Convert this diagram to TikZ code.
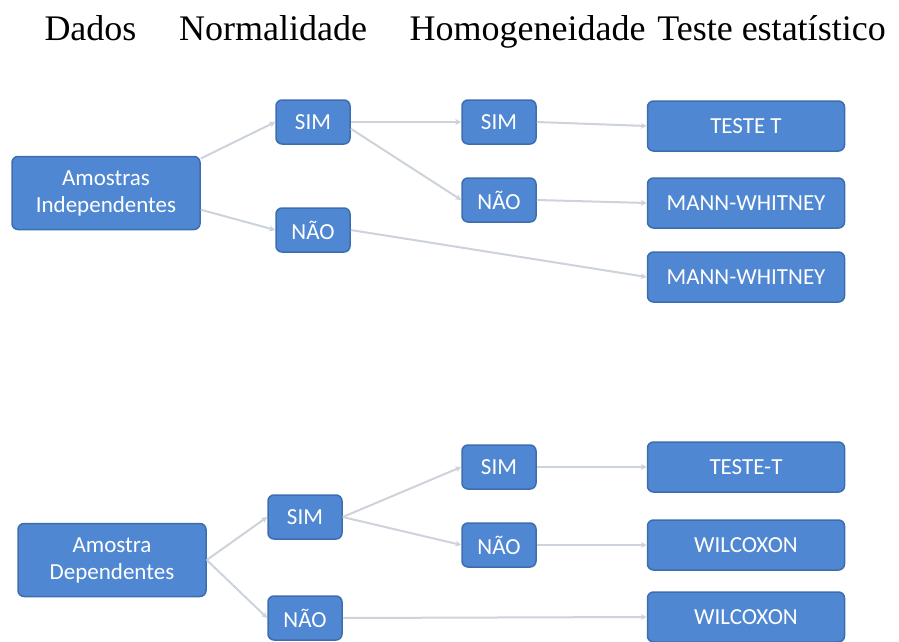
\documentclass[tikz,border=0pt]{standalone}
\usepackage{fontspec}
\setmainfont{Liberation Serif}
\newfontfamily\boitefont{Carlito}
\usetikzlibrary{arrows.meta}

\definecolor{bleu}{HTML}{4F87D2}
\definecolor{bleubord}{HTML}{3D6DAF}
\definecolor{gris}{HTML}{CDD3DB}

\tikzset{
  titre/.style={anchor=base, font=\fontsize{36}{40}\selectfont},
  boite/.style={draw=bleubord, line width=1.5pt, fill=bleu, rounded corners=6pt,
    text=white, font=\boitefont\fontsize{23}{27}\selectfont, align=center, inner sep=0pt},
  petite/.style={boite, minimum width=74pt, minimum height=44pt},
  grande/.style={boite, minimum width=197pt, minimum height=50pt},
  racine/.style={boite, minimum width=188pt, minimum height=73pt},
  lien/.style={draw=gris, line width=2pt, -{Stealth[length=6pt,width=6pt]}}
}

\begin{document}
\begin{tikzpicture}[x=1pt, y=-1pt]
		\useasboundingbox (0, 0) rectangle (899, 642);

		% titres des colonnes
		\node[titre] (tdados) at (90.5, 41) {Dados};
		\node[titre] (tnorm) at (273, 41) {Normalidade};
		\node[titre] (thomo) at (527.5, 41) {Homogeneidade};
		\node[titre] (tteste) at (771.5, 41) {Teste estatístico};

		% amostras independentes
		\node[racine] (ind) at (106, 193) {Amostras\\Independentes};
		\node[petite] (indsim) at (313, 122) {SIM};
		\node[petite] (indnao) at (313, 230) {NÃO};
		\node[petite] (indhsim) at (499, 122) {SIM};
		\node[petite] (indhnao) at (499, 200) {NÃO};
		\node[grande] (testet) at (746, 126) {TESTE T};
		\node[grande] (mannA) at (746, 203) {MANN-WHITNEY};
		\node[grande] (mannB) at (746, 277) {MANN-WHITNEY};

		\draw[lien] (ind.20) -- (indsim.west);
		\draw[lien] (ind.-10) -- (indnao.west);
		\draw[lien] (indsim.east) -- (indhsim.west);
		\draw[lien] (indsim.-10) -- (indhnao.west);
		\draw[lien] (indnao.east) -- (mannB.west);
		\draw[lien] (indhsim.east) -- (testet.west);
		\draw[lien] (indhnao.east) -- (mannA.west);

		% amostra dependentes
		\node[racine] (dep) at (112, 560) {Amostra\\Dependentes};
		\node[petite] (depsim) at (305, 517) {SIM};
		\node[petite] (depnao) at (305, 618) {NÃO};
		\node[petite] (dephsim) at (499, 467) {SIM};
		\node[petite] (dephnao) at (499, 545) {NÃO};
		\node[grande] (testetb) at (746, 467) {TESTE-T};
		\node[grande] (wilA) at (746, 545) {WILCOXON};
		\node[grande] (wilB) at (746, 617) {WILCOXON};

		\draw[lien] (dep.east) -- (depsim.west);
		\draw[lien] (dep.east) -- (depnao.west);
		\draw[lien] (depsim.east) -- (dephsim.west);
		\draw[lien] (depsim.east) -- (dephnao.west);
		\draw[lien] (depnao.east) -- (wilB.west);
		\draw[lien] (dephsim.east) -- (testetb.west);
		\draw[lien] (dephnao.east) -- (wilA.west);

\end{tikzpicture}
\end{document}
